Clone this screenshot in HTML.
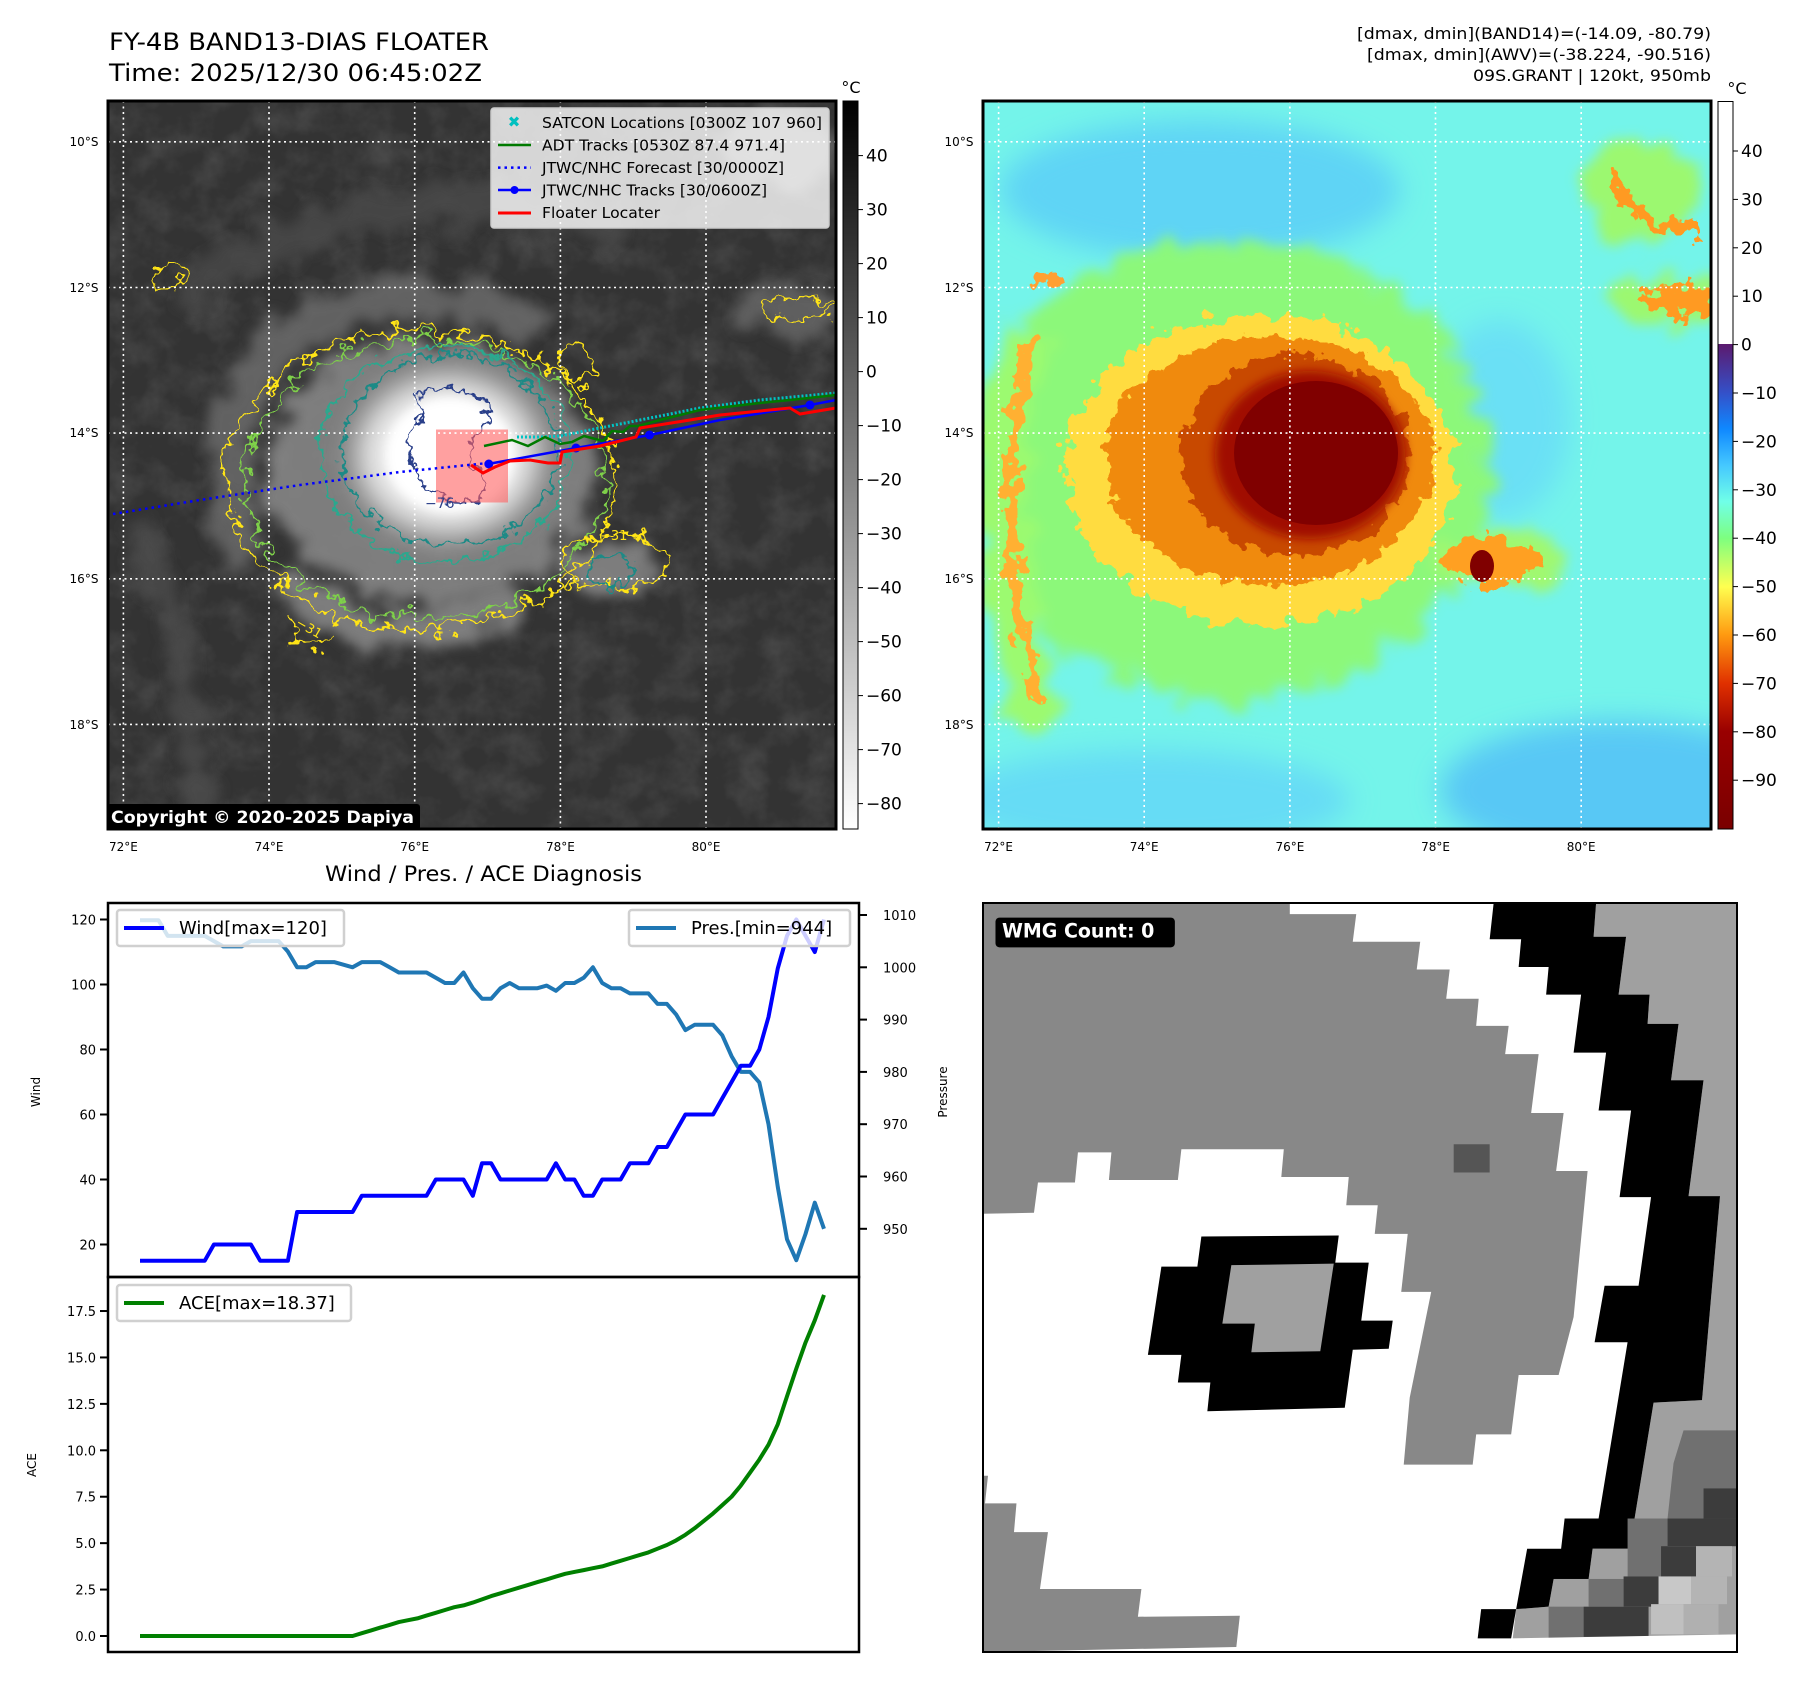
<!DOCTYPE html>
<html><head><meta charset="utf-8">
<style>
html,body{margin:0;padding:0;background:#fff;}
#root{position:relative;width:1801px;height:1690px;overflow:hidden;font-family:"Liberation Sans","DejaVu Sans",sans-serif;}
svg text{font-family:"DejaVu Sans","Liberation Sans",sans-serif;}
</style></head>
<body>
<div id="root">
<svg id="fig" width="1801" height="1690" viewBox="0 0 1801 1690" xmlns="http://www.w3.org/2000/svg">
<defs>
  <filter id="wob" x="-20%" y="-20%" width="140%" height="140%">
    <feTurbulence type="fractalNoise" baseFrequency="0.06" numOctaves="3" seed="3" result="n"/>
    <feDisplacementMap in="SourceGraphic" in2="n" scale="34" xChannelSelector="R" yChannelSelector="G"/>
  </filter>
  <filter id="wob2" x="-20%" y="-20%" width="140%" height="140%">
    <feTurbulence type="fractalNoise" baseFrequency="0.07" numOctaves="3" seed="7" result="n"/>
    <feDisplacementMap in="SourceGraphic" in2="n" scale="24" xChannelSelector="R" yChannelSelector="G"/>
  </filter>
  <filter id="cloudblur" x="-30%" y="-30%" width="160%" height="160%">
    <feTurbulence type="fractalNoise" baseFrequency="0.04" numOctaves="3" seed="5" result="n"/>
    <feDisplacementMap in="SourceGraphic" in2="n" scale="50" xChannelSelector="R" yChannelSelector="G" result="d"/>
    <feGaussianBlur in="d" stdDeviation="6"/>
  </filter>
  <filter id="soft" x="-30%" y="-30%" width="160%" height="160%"><feGaussianBlur stdDeviation="14"/></filter>
  <filter id="soft2" x="-30%" y="-30%" width="160%" height="160%"><feGaussianBlur stdDeviation="5"/></filter>
  <filter id="tex" x="0" y="0" width="100%" height="100%">
    <feTurbulence type="fractalNoise" baseFrequency="0.03" numOctaves="4" seed="11"/>
    <feColorMatrix type="matrix" values="0 0 0 0 1  0 0 0 0 1  0 0 0 0 1  1.4 0 0 0 -0.55"/>
  </filter>
  <linearGradient id="cbGray" x1="0" y1="0" x2="0" y2="1">
    <stop offset="0" stop-color="#000"/><stop offset="1" stop-color="#fff"/>
  </linearGradient>
  <linearGradient id="cbJet" x1="0" y1="0" x2="0" y2="1">
    <stop offset="0" stop-color="#fff"/>
    <stop offset="0.3333" stop-color="#fff"/>
    <stop offset="0.3334" stop-color="#5c1a6e"/>
    <stop offset="0.40" stop-color="#3450c8"/>
    <stop offset="0.45" stop-color="#0f88ff"/>
    <stop offset="0.50" stop-color="#45c8ff"/>
    <stop offset="0.55" stop-color="#70ffe8"/>
    <stop offset="0.60" stop-color="#7dff80"/>
    <stop offset="0.667" stop-color="#ffff50"/>
    <stop offset="0.733" stop-color="#ff9a10"/>
    <stop offset="0.80" stop-color="#e03000"/>
    <stop offset="0.866" stop-color="#990000"/>
    <stop offset="1" stop-color="#7a0000"/>
  </linearGradient>
  <clipPath id="clipL"><rect x="108" y="101" width="728" height="728"/></clipPath>
  <clipPath id="clipR"><rect x="983" y="101" width="728" height="728"/></clipPath>
  <clipPath id="clipW"><rect x="108" y="903" width="751" height="749"/></clipPath>
</defs>

<!-- ================= TITLES ================= -->
<text x="109" y="50" font-size="24" fill="#000" textLength="380" lengthAdjust="spacingAndGlyphs">FY-4B BAND13-DIAS FLOATER</text>
<text x="109" y="81" font-size="24" fill="#000" textLength="373" lengthAdjust="spacingAndGlyphs">Time: 2025/12/30 06:45:02Z</text>
<g font-size="16" text-anchor="end" fill="#000">
  <text x="1711" y="39" textLength="354" lengthAdjust="spacingAndGlyphs">[dmax, dmin](BAND14)=(-14.09, -80.79)</text>
  <text x="1711" y="60" textLength="344" lengthAdjust="spacingAndGlyphs">[dmax, dmin](AWV)=(-38.224, -90.516)</text>
  <text x="1711" y="81" textLength="238" lengthAdjust="spacingAndGlyphs">09S.GRANT | 120kt, 950mb</text>
</g>

<!-- ================= LEFT MAP ================= -->
<g clip-path="url(#clipL)">
  <rect x="108" y="101" width="728" height="728" fill="#333"/>
  <rect x="108" y="101" width="728" height="728" filter="url(#tex)" opacity="0.14"/>
  <g filter="url(#cloudblur)" opacity="0.85">
    <path d="M250,560 C200,420 260,320 380,300 C470,290 540,330 540,330" stroke="#6a6a6a" stroke-width="40" fill="none"/>
    <path d="M180,300 C300,200 480,180 620,230" stroke="#4a4a4a" stroke-width="40" fill="none"/>
    <ellipse cx="430" cy="470" rx="165" ry="130" fill="#8a8a8a"/>
    <path d="M290,580 C330,640 420,640 520,600" stroke="#8a8a8a" stroke-width="35" fill="none"/>
    <ellipse cx="610" cy="565" rx="50" ry="25" fill="#8a8a8a"/>
    <path d="M140,520 C170,600 190,700 200,820" stroke="#4c4c4c" stroke-width="25" fill="none"/>
    <ellipse cx="780" cy="150" rx="60" ry="35" fill="#707070"/>
    <ellipse cx="790" cy="310" rx="55" ry="22" fill="#666"/>
  </g>
  <ellipse cx="448" cy="455" rx="92" ry="80" fill="#e8e8e8" filter="url(#soft)"/>
  <ellipse cx="450" cy="455" rx="65" ry="58" fill="#fff" filter="url(#soft2)"/>
  <!-- contours -->
  <g fill="none" stroke-width="2.2">
    <g filter="url(#wob)">
      <ellipse cx="420" cy="480" rx="195" ry="150" stroke="#ffe415"/>
      <ellipse cx="425" cy="478" rx="180" ry="140" stroke="#7ed04a"/>
      <ellipse cx="612" cy="562" rx="55" ry="28" stroke="#ffe415"/>
      <ellipse cx="172" cy="277" rx="14" ry="12" stroke="#ffe415"/>
      <ellipse cx="575" cy="362" rx="16" ry="20" stroke="#ffe415"/>
      <ellipse cx="795" cy="308" rx="38" ry="11" stroke="#ffe415"/>
      <path d="M290,620 C300,660 320,650 330,640" stroke="#ffe415"/>
    </g>
    <g filter="url(#wob2)">
      <ellipse cx="445" cy="455" rx="125" ry="108" stroke="#2aa88e"/>
      <ellipse cx="450" cy="450" rx="108" ry="95" stroke="#1f8a86"/>
      <ellipse cx="612" cy="570" rx="20" ry="16" stroke="#1f8a86"/>
      <path d="M420,395 C450,385 480,390 490,405 C485,425 470,435 470,450 C465,470 500,480 480,500 C455,505 430,500 420,480 C415,460 395,440 420,420 Z" stroke="#2c3f8a"/>
    </g>
  </g>
  <rect x="436" y="429.5" width="72" height="73" fill="#ff6060" opacity="0.6"/>
  <text x="425" y="508" font-size="14" fill="#2c3f8a">−76</text>
  <text x="600" y="540" font-size="13" fill="#ffe415">−31</text>
  <text x="295" y="625" font-size="13" fill="#ffe415" transform="rotate(30 295 625)">−31</text>
  <!-- grid -->
  <g stroke="#fff" stroke-width="1.6" stroke-dasharray="2,3.5">
    <line x1="123.4" y1="101" x2="123.4" y2="829"/><line x1="269" y1="101" x2="269" y2="829"/>
    <line x1="414.7" y1="101" x2="414.7" y2="829"/><line x1="560.4" y1="101" x2="560.4" y2="829"/>
    <line x1="706" y1="101" x2="706" y2="829"/>
    <line x1="108" y1="141.8" x2="836" y2="141.8"/><line x1="108" y1="287.5" x2="836" y2="287.5"/>
    <line x1="108" y1="433.1" x2="836" y2="433.1"/><line x1="108" y1="578.8" x2="836" y2="578.8"/>
    <line x1="108" y1="724.4" x2="836" y2="724.4"/>
  </g>
  <!-- tracks -->
  <polyline points="113,514 200,500 300,485 400,472 488,463" fill="none" stroke="#0000ff" stroke-width="2.5" stroke-dasharray="2.5,4"/>
  <g fill="none" stroke="#00c4c4" stroke-width="3" stroke-dasharray="2,2">
    <polyline points="517,437 540,437 560,436 600,428 640,420 700,408 760,400 836,393"/>
  </g>
  <polyline points="484,446 512,440 528,446 545,437 560,444 572,442 584,436 603,441 612,431 623,432 630,426 638,426 660,420 700,410 760,403 790,400 836,395" fill="none" stroke="#007a00" stroke-width="2.5"/>
  <polyline points="488,464 576,448 650,435 720,420 810,405 836,400" fill="none" stroke="#0000ff" stroke-width="2.5"/>
  <g fill="#0000ff"><circle cx="488.8" cy="464" r="4.5"/><circle cx="576" cy="448" r="4.5"/><circle cx="649.5" cy="435" r="4.5"/><circle cx="810" cy="405" r="4.5"/></g>
  <polyline points="471,465 483,473 495,467 510,461 530,460 548,463 560,463 562,452 600,446 636,437 640,428 690,420 720,415 790,408 800,414 836,408" fill="none" stroke="#ff0000" stroke-width="3"/>
  <!-- legend -->
  <g>
    <rect x="491" y="108" width="338" height="120" rx="3" fill="#fff" fill-opacity="0.8" stroke="#ccc" stroke-width="1.5"/>
    <text x="514" y="127" font-size="15" font-weight="bold" fill="#00c0c0" text-anchor="middle">✖</text>
    <line x1="498" y1="145" x2="531" y2="145" stroke="#007a00" stroke-width="2.5"/>
    <line x1="498" y1="167.6" x2="531" y2="167.6" stroke="#0000ff" stroke-width="2.5" stroke-dasharray="2.5,4"/>
    <line x1="498" y1="190" x2="531" y2="190" stroke="#0000ff" stroke-width="2.5"/><circle cx="514.5" cy="190" r="4" fill="#0000ff"/>
    <line x1="498" y1="213" x2="531" y2="213" stroke="#ff0000" stroke-width="3"/>
    <g font-size="15" fill="#000">
      <text x="542" y="128" textLength="280" lengthAdjust="spacingAndGlyphs">SATCON Locations [0300Z 107 960]</text>
      <text x="542" y="150.5" textLength="243" lengthAdjust="spacingAndGlyphs">ADT Tracks [0530Z 87.4 971.4]</text>
      <text x="542" y="173" textLength="242" lengthAdjust="spacingAndGlyphs">JTWC/NHC Forecast [30/0000Z]</text>
      <text x="542" y="195.5" textLength="225" lengthAdjust="spacingAndGlyphs">JTWC/NHC Tracks [30/0600Z]</text>
      <text x="542" y="218" textLength="118" lengthAdjust="spacingAndGlyphs">Floater Locater</text>
    </g>
  </g>
  <rect x="107" y="804" width="313" height="26" rx="3" fill="#000"/>
  <text x="111" y="823" font-size="17" font-weight="bold" fill="#fff" textLength="303" lengthAdjust="spacingAndGlyphs">Copyright © 2020-2025 Dapiya</text>
</g>
<rect x="108" y="101" width="728" height="728" fill="none" stroke="#000" stroke-width="3"/>
<g font-size="12" fill="#000" text-anchor="middle">
  <text x="84" y="146">10°S</text><text x="84" y="292">12°S</text><text x="84" y="437">14°S</text><text x="84" y="583">16°S</text><text x="84" y="729">18°S</text>
  <text x="123.4" y="851">72°E</text><text x="269" y="851">74°E</text><text x="414.7" y="851">76°E</text><text x="560.4" y="851">78°E</text><text x="706" y="851">80°E</text>
</g>
<!-- left colorbar -->
<g>
  <rect x="843" y="101" width="15" height="728" fill="url(#cbGray)" stroke="#000" stroke-width="1"/>
  <text x="851" y="93" font-size="16" text-anchor="middle">°C</text>
  <g id="cbLticks" font-size="17" fill="#000"></g>
</g>

<!-- ================= RIGHT MAP ================= -->
<g clip-path="url(#clipR)">
  <rect x="983" y="101" width="728" height="728" fill="#74f4ea"/>
  <g filter="url(#soft)">
    <ellipse cx="1200" cy="190" rx="200" ry="70" fill="#5ed4f5"/>
    <ellipse cx="1620" cy="790" rx="180" ry="70" fill="#58c8f5"/>
    <ellipse cx="1150" cy="800" rx="200" ry="50" fill="#66dcf5"/>
    <ellipse cx="1500" cy="420" rx="70" ry="100" fill="#6ae0f5"/>
  </g>
  <g filter="url(#cloudblur)">
    <ellipse cx="1230" cy="470" rx="260" ry="230" fill="#8cf87a"/>
    <path d="M1030,330 C990,450 1000,600 1040,730" stroke="#9cfa70" stroke-width="45" fill="none"/>
    <ellipse cx="1640" cy="190" rx="60" ry="50" fill="#9cf870"/>
    <ellipse cx="1670" cy="300" rx="55" ry="25" fill="#9cf870"/>
    <ellipse cx="1500" cy="560" rx="70" ry="30" fill="#a0f870"/>
  </g>
  <g filter="url(#wob)">
    <ellipse cx="1260" cy="470" rx="195" ry="155" fill="#ffdc40"/>
    <path d="M1030,340 C1000,450 1005,600 1040,700" stroke="#ffb030" stroke-width="14" fill="none"/>
    <ellipse cx="1490" cy="560" rx="48" ry="24" fill="#ffa020"/>
    <path d="M1610,170 C1620,210 1650,230 1700,230" stroke="#ff9a20" stroke-width="12" fill="none"/>
    <ellipse cx="1680" cy="300" rx="36" ry="16" fill="#ff9a20"/>
    <ellipse cx="1050" cy="280" rx="16" ry="8" fill="#ffa030"/>
  </g>
  <g filter="url(#wob2)">
    <ellipse cx="1270" cy="460" rx="165" ry="125" fill="#f08a10"/>
    <ellipse cx="1295" cy="455" rx="115" ry="100" fill="#c84a05"/>
  </g>
  <ellipse cx="1310" cy="455" rx="95" ry="84" fill="#a01000" filter="url(#soft2)"/>
  <ellipse cx="1316" cy="453" rx="82" ry="72" fill="#800000"/>
  <ellipse cx="1482" cy="566" rx="12" ry="16" fill="#800000"/>
  <!-- grid -->
  <g stroke="#fff" stroke-width="1.6" stroke-dasharray="2,3.5">
    <line x1="998.6" y1="101" x2="998.6" y2="829"/><line x1="1144.2" y1="101" x2="1144.2" y2="829"/>
    <line x1="1289.9" y1="101" x2="1289.9" y2="829"/><line x1="1435.5" y1="101" x2="1435.5" y2="829"/>
    <line x1="1581.2" y1="101" x2="1581.2" y2="829"/>
    <line x1="983" y1="141.8" x2="1711" y2="141.8"/><line x1="983" y1="287.5" x2="1711" y2="287.5"/>
    <line x1="983" y1="433.1" x2="1711" y2="433.1"/><line x1="983" y1="578.8" x2="1711" y2="578.8"/>
    <line x1="983" y1="724.4" x2="1711" y2="724.4"/>
  </g>
</g>
<rect x="983" y="101" width="728" height="728" fill="none" stroke="#000" stroke-width="3"/>
<g font-size="12" fill="#000" text-anchor="middle">
  <text x="959" y="146">10°S</text><text x="959" y="292">12°S</text><text x="959" y="437">14°S</text><text x="959" y="583">16°S</text><text x="959" y="729">18°S</text>
  <text x="998.6" y="851">72°E</text><text x="1144.2" y="851">74°E</text><text x="1289.9" y="851">76°E</text><text x="1435.5" y="851">78°E</text><text x="1581.2" y="851">80°E</text>
</g>
<g>
  <rect x="1718" y="101.5" width="15" height="727.5" fill="url(#cbJet)" stroke="#000" stroke-width="1"/>
  <text x="1737" y="94" font-size="16" text-anchor="middle">°C</text>
  <g id="cbRticks" font-size="17" fill="#000"></g>
</g>

<!-- ================= WMG PANEL ================= -->
<svg x="983" y="903" width="754" height="749" viewBox="8 28 1509 1487" preserveAspectRatio="none">
  <rect x="8" y="28" width="1509" height="1487" fill="#fff"/>
  <polygon fill="#a0a0a0" points="1235,28 1517,28 1517,1515 1065,1515 1075,1430 1140,1425 1150,1370 1220,1370 1228,1310 1300,1310 1312,1250 1350,1020 1447,1015 1483,610 1420,610 1450,380 1385,380 1400,268 1338,268 1342,210 1280,210 1295,95 1230,95"/>
  <polygon fill="#888" points="8,28 622,28 622,50 755,50 748,105 883,105 876,160 942,160 935,218 1000,218 995,272 1060,272 1053,328 1120,328 1105,445 1170,445 1155,560 1218,560 1190,850 1160,965 1080,965 1065,1083 995,1083 988,1143 850,1143 862,1010 905,800 845,800 858,685 792,685 798,628 735,628 740,572 605,572 610,517 405,517 398,578 260,578 265,523 198,523 192,583 118,583 110,643 8,645"/>
  <rect x="950" y="507" width="72" height="56" fill="#555"/>
  <polygon fill="#000" points="445,690 720,688 713,742 780,742 765,857 828,857 820,913 748,915 732,1030 457,1037 463,980 398,980 405,925 338,925 365,750 437,750"/>
  <polygon fill="#a0a0a0" points="505,747 710,744 683,918 545,920 552,863 487,863"/>
  <polygon fill="#000" points="1030,28 1235,28 1230,95 1295,95 1280,210 1342,210 1338,268 1400,268 1385,380 1450,380 1420,610 1483,610 1447,1015 1350,1020 1312,1250 1300,1310 1228,1310 1220,1370 1150,1370 1140,1425 1075,1430 1065,1488 998,1488 1005,1430 1075,1430 1097,1310 1165,1310 1172,1250 1240,1250 1298,900 1232,900 1252,788 1320,788 1345,612 1282,612 1305,440 1240,440 1255,325 1190,325 1205,210 1135,210 1140,155 1080,155 1085,100 1022,100"/>
  <polygon fill="#707070" points="1410,1075 1517,1075 1517,1190 1450,1190 1450,1250 1378,1250 1390,1140"/>
  <rect x="1450" y="1190" width="67" height="60" fill="#3c3c3c"/>
  <rect x="1298" y="1250" width="80" height="115" fill="#707070"/>
  <rect x="1378" y="1250" width="139" height="55" fill="#3c3c3c"/>
  <rect x="1365" y="1305" width="70" height="60" fill="#3c3c3c"/>
  <rect x="1435" y="1305" width="72" height="60" fill="#b4b4b4"/>
  <rect x="1228" y="1310" width="70" height="58" fill="#a0a0a0"/>
  <rect x="1150" y="1370" width="70" height="55" fill="#a0a0a0"/>
  <rect x="1220" y="1370" width="70" height="55" fill="#707070"/>
  <rect x="1290" y="1365" width="70" height="60" fill="#3c3c3c"/>
  <rect x="1360" y="1365" width="65" height="55" fill="#c8c8c8"/>
  <rect x="1425" y="1365" width="72" height="55" fill="#b4b4b4"/>
  <rect x="1075" y="1430" width="65" height="58" fill="#a0a0a0"/>
  <rect x="1140" y="1425" width="70" height="63" fill="#707070"/>
  <rect x="1210" y="1425" width="130" height="60" fill="#3c3c3c"/>
  <rect x="1345" y="1420" width="65" height="60" fill="#c0c0c0"/>
  <rect x="1410" y="1420" width="70" height="60" fill="#b0b0b0"/>
  <polygon fill="#fff" points="1065,1488 1517,1480 1517,1515 1065,1515"/>
  <polygon fill="#888" points="8,1165 18,1165 12,1220 75,1220 70,1277 138,1277 122,1390 325,1390 318,1445 522,1443 515,1505 8,1515"/>
  <rect x="33" y="57" width="359" height="59" rx="8" fill="#000"/>
  <text x="46" y="97" font-size="38" font-weight="bold" fill="#fff">WMG Count: 0</text>
</svg>
<rect x="983" y="903" width="754" height="749" fill="none" stroke="#000" stroke-width="2"/>

<!-- ================= DIAGNOSIS CHART ================= -->
<text x="483.5" y="881" font-size="21" text-anchor="middle" fill="#000" textLength="317" lengthAdjust="spacingAndGlyphs">Wind / Pres. / ACE Diagnosis</text>
<g id="chart"></g>
</svg>
</div>

<script>
// ---- diagnosis chart data ----
const windValues = [15,15,15,15,15,15,15,15,20,20,20,20,20,15,15,15,15,30,30,30,30,30,30,30,35,35,35,35,35,35,35,35,40,40,40,40,35,45,45,40,40,40,40,40,40,45,40,40,35,35,40,40,40,45,45,45,50,50,55,60,60,60,60,65,70,75,75,80,90,105,115,120,115,110,120];
const presValues = [1009,1009,1009,1006,1006,1006,1006,1006,1005,1004,1004,1004,1005,1005,1005,1005,1003,1000,1000,1001,1001,1001,1000.5,1000,1001,1001,1001,1000,999,999,999,999,998,997,997,999,996,994,994,996,997,996,996,996,996.5,995.5,997,997,998,1000,997,996,996,995,995,995,993,993,991,988,989,989,989,987,983,980,980,978,970,958,948,944,949,955,950];
const aceValues = [0,0,0,0,0,0,0,0,0,0,0,0,0,0,0,0,0,0,0,0,0,0,0,0,0.15,0.3,0.45,0.6,0.75,0.85,0.95,1.1,1.25,1.4,1.55,1.65,1.8,1.97,2.15,2.3,2.45,2.6,2.75,2.9,3.05,3.2,3.35,3.45,3.55,3.65,3.75,3.9,4.05,4.2,4.35,4.5,4.7,4.9,5.15,5.45,5.8,6.2,6.6,7.05,7.5,8.1,8.8,9.5,10.3,11.4,12.9,14.4,15.8,17.0,18.37];
const windTicks = [20,40,60,80,100,120];
const presTicks = [1010,1000,990,980,970,960,950];
const aceTicks = [0,2.5,5,7.5,10,12.5,15,17.5];
const irCbTicks = [40,30,20,10,0,-10,-20,-30,-40,-50,-60,-70,-80];
const awvCbTicks = [40,30,20,10,0,-10,-20,-30,-40,-50,-60,-70,-80,-90];

const NS = 'http://www.w3.org/2000/svg';
function mk(tag, attrs, parent){const e=document.createElementNS(NS,tag);for(const k in attrs)e.setAttribute(k,attrs[k]);parent.appendChild(e);return e;}
function fmtNum(v){return (v<0?'\u2212':'')+Math.abs(v);}

const X0=140, X1=824;
function xScale(i,n){return X0+i*(X1-X0)/(n-1);}
function yWind(v){return 1244.5-(v-20)*3.25;}
function yPres(p){return 967.3-(p-1000)*5.23;}
function yAce(a){return 1636-a*18.57;}
function yIrCb(v){return 155.6+(40-v)*5.4;}
function yAwvCb(v){return 151+(40-v)*4.84;}

const cbl=document.getElementById('cbLticks');
irCbTicks.forEach(v=>{const y=yIrCb(v);
  mk('line',{x1:858,y1:y,x2:863,y2:y,stroke:'#000','stroke-width':1},cbl);
  const t=mk('text',{x:866,y:y+6},cbl);t.textContent=fmtNum(v);
  
  
});
const cbr=document.getElementById('cbRticks');
awvCbTicks.forEach(v=>{const y=yAwvCb(v);
  mk('line',{x1:1733,y1:y,x2:1738,y2:y,stroke:'#000','stroke-width':1},cbr);
  const t=mk('text',{x:1741,y:y+6},cbr);t.textContent=fmtNum(v);
  
  
});

const chart=document.getElementById('chart');
const gClip=mk('g',{'clip-path':'url(#clipW)'},chart);
function linePts(arr,yf){return arr.map((v,i)=>xScale(i,arr.length).toFixed(1)+','+yf(v).toFixed(1)).join(' ');}

const presLine=mk('polyline',{points:linePts(presValues,yPres),fill:'none',stroke:'#1f77b4','stroke-width':4,'stroke-linejoin':'round'},gClip);


const windLine=mk('polyline',{points:linePts(windValues,yWind),fill:'none',stroke:'#0000ff','stroke-width':4,'stroke-linejoin':'round'},gClip);


const aceLine=mk('polyline',{points:linePts(aceValues,yAce),fill:'none',stroke:'#008000','stroke-width':4,'stroke-linejoin':'round'},gClip);



mk('rect',{x:108,y:903,width:751,height:374,fill:'none',stroke:'#000','stroke-width':2.5},chart);
mk('rect',{x:108,y:1277,width:751,height:375,fill:'none',stroke:'#000','stroke-width':2.5},chart);

windTicks.forEach(v=>{const y=yWind(v);
  mk('line',{x1:100,y1:y,x2:108,y2:y,stroke:'#000','stroke-width':2},chart);
  const t=mk('text',{x:96,y:y+5,'font-size':13,'text-anchor':'end'},chart);t.textContent=v;
  
  
});
presTicks.forEach(v=>{const y=yPres(v);
  mk('line',{x1:859,y1:y,x2:867,y2:y,stroke:'#000','stroke-width':2},chart);
  const t=mk('text',{x:883,y:y+5,'font-size':13},chart);t.textContent=v;
  
  
});
aceTicks.forEach(v=>{const y=yAce(v);
  mk('line',{x1:100,y1:y,x2:108,y2:y,stroke:'#000','stroke-width':2},chart);
  const t=mk('text',{x:96,y:y+5,'font-size':13,'text-anchor':'end'},chart);t.textContent=v.toFixed(1);
  
  
});
let t;
t=mk('text',{x:40,y:1092,'font-size':12,'text-anchor':'middle',transform:'rotate(-90 40 1092)'},chart);t.textContent='Wind';


t=mk('text',{x:947,y:1092,'font-size':12,'text-anchor':'middle',transform:'rotate(-90 947 1092)'},chart);t.textContent='Pressure';


t=mk('text',{x:36,y:1465,'font-size':12,'text-anchor':'middle',transform:'rotate(-90 36 1465)'},chart);t.textContent='ACE';



function legend(x,y,w,color,label,name){
  const g=mk('g',{},chart);
  
  
  mk('rect',{x:x,y:y,width:w,height:36,rx:3,fill:'#fff','fill-opacity':0.8,stroke:'#d0d0d0','stroke-width':2.5},g);
  mk('line',{x1:x+7,y1:y+18,x2:x+47,y2:y+18,stroke:color,'stroke-width':4},g);
  const tt=mk('text',{x:x+62,y:y+24,'font-size':18},g);tt.textContent=label;
}
legend(117,910,227,'#0000ff','Wind[max=120]','wind-legend');
legend(629,910,221,'#1f77b4','Pres.[min=944]','pressure-legend');
legend(117,1285,234,'#008000','ACE[max=18.37]','ace-legend');
</script>
</body></html>
